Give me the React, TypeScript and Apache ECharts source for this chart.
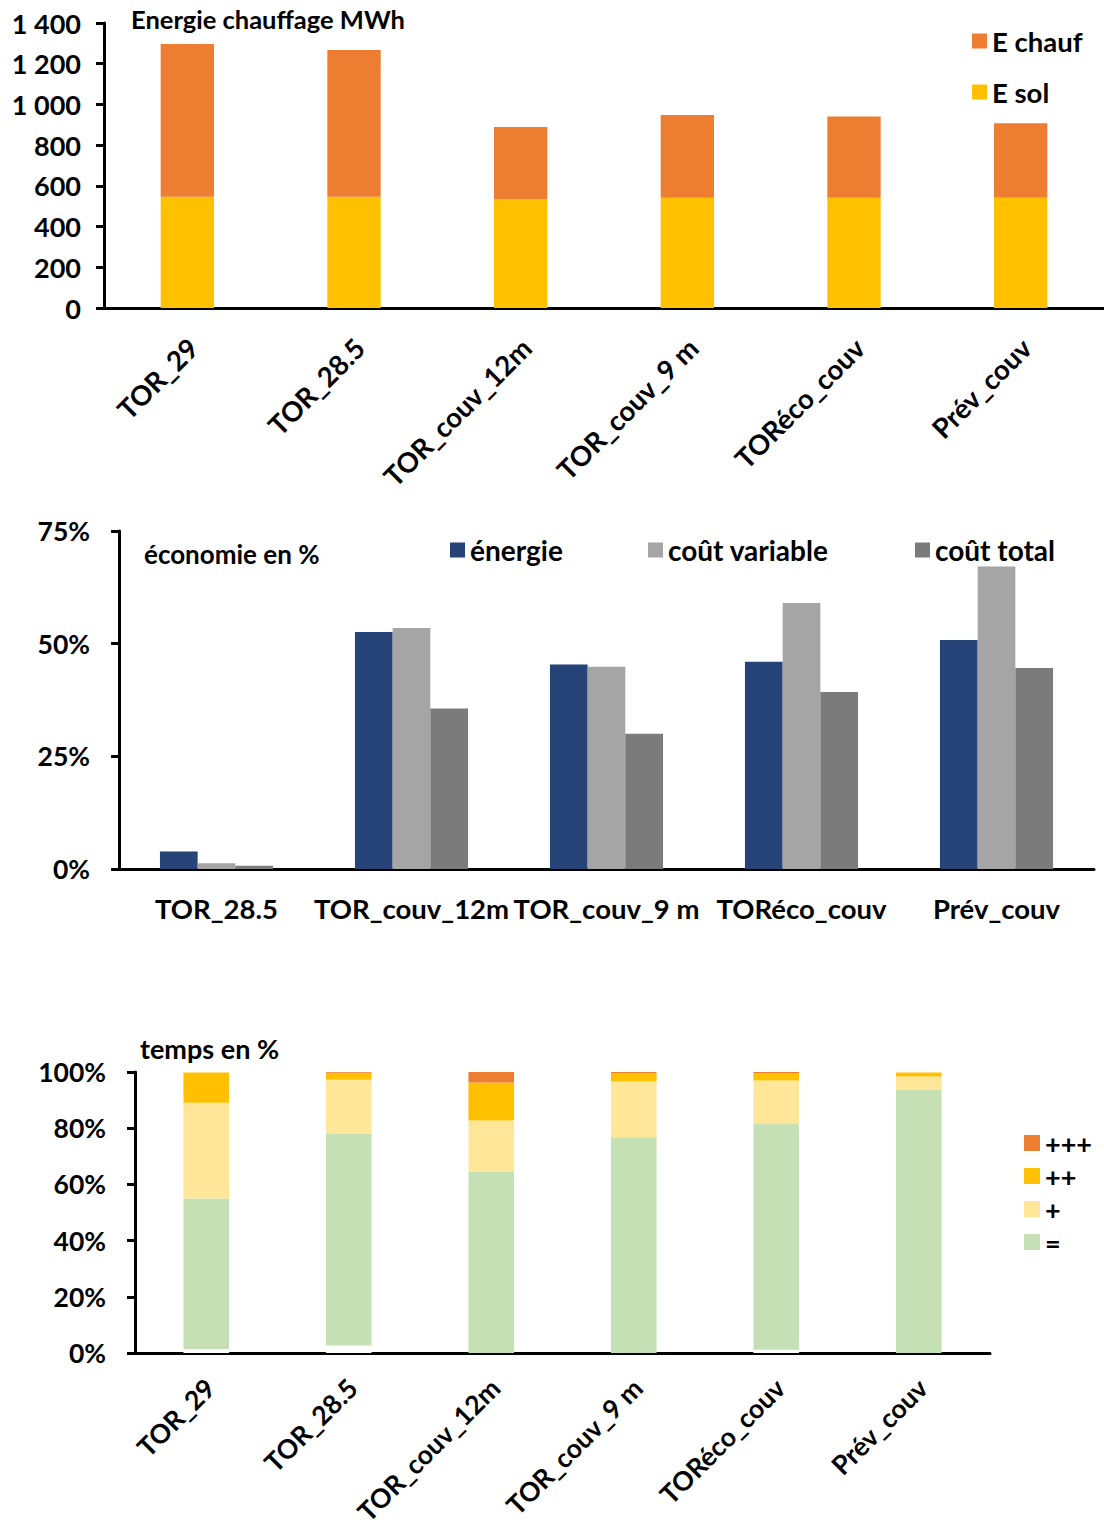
import React, { useEffect, useRef } from "react";
import * as echarts from "echarts";

const categories = ["TOR_29", "TOR_28.5", "TOR_couv_12m", "TOR_couv_9 m", "TORéco_couv", "Prév_couv"];
const eSol = [547, 547, 535, 542, 542, 542];
const eChauf = [750, 720, 354, 406, 399, 365];

const ecoCategories = ["TOR_28.5", "TOR_couv_12m", "TOR_couv_9 m", "TORéco_couv", "Prév_couv"];
const ecoEnergie = [3.9, 52.6, 45.4, 46.0, 50.8];
const ecoCoutVariable = [1.3, 53.5, 44.9, 59.0, 67.1];
const ecoCoutTotal = [0.7, 35.6, 30.0, 39.3, 44.6];

const tempsHidden = [1.4, 2.7, 0, 0, 1.2, 0];
const tempsEgal = [53.6, 75.3, 64.4, 76.8, 80.6, 93.8];
const tempsPlus = [34.1, 19.2, 18.3, 19.9, 15.2, 4.6];
const tempsPlusPlus = [10.7, 2.5, 13.6, 2.9, 2.6, 1.4];
const tempsPlusPlusPlus = [0, 0.3, 3.7, 0.4, 0.4, 0];

const FONT = "Lato";
const txt = (size: number) => ({ fontFamily: FONT, fontWeight: "bold" as const, fontSize: size, color: "#000" });

const axisLine = { show: true, lineStyle: { color: "#000", width: 3 } };
const yTick = { show: true, length: 8, lineStyle: { color: "#000", width: 3 } };

export default function App() {
  const ref = useRef<HTMLDivElement>(null);
  useEffect(() => {
    document.body.style.margin = "0";
    const chart = echarts.init(ref.current!, null, { renderer: "svg" });
    const fmtThousands = (v: number) => {
      if (v >= 1000) {
        const r = String(v % 1000).padStart(3, "0");
        return Math.floor(v / 1000) + " " + r;
      }
      return String(v);
    };
    const legendCommon = { padding: 0, icon: "rect", itemTextGap: 12 };
    chart.setOption({
      animation: false,
      backgroundColor: "#fff",
      textStyle: { fontFamily: FONT },
      title: [
        { text: "Energie chauffage MWh", left: 131, top: 6, padding: 0, textStyle: txt(25.5) },
        { text: "économie en %", left: 144, top: 541, padding: 0, textStyle: txt(26) },
        { text: "temps en %", left: 140, top: 1035, padding: 0, textStyle: txt(27) },
      ],
      legend: [
        {
          ...legendCommon,
          data: ["E chauf", "E sol"],
          orient: "vertical",
          left: 972,
          top: 26,
          itemWidth: 15,
          itemHeight: 15,
          itemGap: 21,
          textStyle: { ...txt(27.5), lineHeight: 30 },
        },
        {
          ...legendCommon,
          data: ["énergie"],
          left: 450,
          top: 534,
          itemWidth: 15,
          itemHeight: 15,
          textStyle: { ...txt(28), lineHeight: 32 },
        },
        {
          ...legendCommon,
          data: ["coût variable"],
          left: 648,
          top: 534,
          itemWidth: 15,
          itemHeight: 15,
          textStyle: { ...txt(28), lineHeight: 32 },
        },
        {
          ...legendCommon,
          data: ["coût total"],
          left: 915,
          top: 534,
          itemWidth: 15,
          itemHeight: 15,
          textStyle: { ...txt(28), lineHeight: 32 },
        },
        {
          ...legendCommon,
          data: ["+++", "++", "+", "="],
          orient: "vertical",
          left: 1024,
          top: 1129,
          itemWidth: 16,
          itemHeight: 16,
          itemGap: 5,
          itemTextGap: 9,
          textStyle: { ...txt(27), lineHeight: 28 },
        },
      ],
      grid: [
        { left: 104, right: 0, top: 23, height: 285, outerBoundsMode: "none", containLabel: false },
        { left: 119, width: 975, top: 531, height: 338, outerBoundsMode: "none", containLabel: false },
        { left: 135, width: 855, top: 1072, height: 281, outerBoundsMode: "none", containLabel: false },
      ],
      xAxis: [
        {
          type: "category",
          gridIndex: 0,
          data: categories,
          axisLine,
          axisTick: { show: false },
          axisLabel: {
            ...txt(27.5),
            rotate: 45,
            margin: 21,
            align: "right",
            verticalAlign: "top",
            padding: [0, 6, 0, 0],
            interval: 0,
          },
        },
        {
          type: "category",
          gridIndex: 1,
          data: ecoCategories,
          axisLine,
          axisTick: { show: false },
          axisLabel: { ...txt(27.5), margin: 25, interval: 0 },
        },
        {
          type: "category",
          gridIndex: 2,
          data: categories,
          axisLine,
          axisTick: { show: false },
          axisLabel: {
            ...txt(26.5),
            rotate: 45,
            margin: 15,
            align: "right",
            verticalAlign: "top",
            padding: [0, 8, 0, 0],
            interval: 0,
          },
        },
      ],
      yAxis: [
        {
          type: "value",
          gridIndex: 0,
          min: 0,
          max: 1400,
          interval: 200,
          axisLine,
          axisTick: yTick,
          splitLine: { show: false },
          axisLabel: { ...txt(27), margin: 23, formatter: fmtThousands },
        },
        {
          type: "value",
          gridIndex: 1,
          min: 0,
          max: 75,
          interval: 25,
          axisLine,
          axisTick: yTick,
          splitLine: { show: false },
          axisLabel: { ...txt(26.5), margin: 29, formatter: (v: number) => v + "%" },
        },
        {
          type: "value",
          gridIndex: 2,
          min: 0,
          max: 100,
          interval: 20,
          axisLine,
          axisTick: yTick,
          splitLine: { show: false },
          axisLabel: { ...txt(26.5), margin: 29, formatter: (v: number) => v + "%" },
        },
      ],
      series: [
        {
          name: "E sol",
          type: "bar",
          xAxisIndex: 0,
          yAxisIndex: 0,
          stack: "e",
          data: eSol,
          barCategoryGap: "68%",
          itemStyle: { color: "#FFC000" },
        },
        {
          name: "E chauf",
          type: "bar",
          xAxisIndex: 0,
          yAxisIndex: 0,
          stack: "e",
          data: eChauf,
          itemStyle: { color: "#ED7D31" },
        },
        {
          name: "énergie",
          type: "bar",
          xAxisIndex: 1,
          yAxisIndex: 1,
          data: ecoEnergie,
          barGap: "0%",
          barCategoryGap: "42%",
          itemStyle: { color: "#264478" },
        },
        {
          name: "coût variable",
          type: "bar",
          xAxisIndex: 1,
          yAxisIndex: 1,
          data: ecoCoutVariable,
          itemStyle: { color: "#A5A5A5" },
        },
        {
          name: "coût total",
          type: "bar",
          xAxisIndex: 1,
          yAxisIndex: 1,
          data: ecoCoutTotal,
          itemStyle: { color: "#7B7B7B" },
        },
        {
          name: "-",
          type: "bar",
          xAxisIndex: 2,
          yAxisIndex: 2,
          stack: "t",
          data: tempsHidden,
          barCategoryGap: "68%",
          itemStyle: { color: "#ffffff" },
        },
        {
          name: "=",
          type: "bar",
          xAxisIndex: 2,
          yAxisIndex: 2,
          stack: "t",
          data: tempsEgal,
          itemStyle: { color: "#C5E0B4" },
        },
        {
          name: "+",
          type: "bar",
          xAxisIndex: 2,
          yAxisIndex: 2,
          stack: "t",
          data: tempsPlus,
          itemStyle: { color: "#FFE699" },
        },
        {
          name: "++",
          type: "bar",
          xAxisIndex: 2,
          yAxisIndex: 2,
          stack: "t",
          data: tempsPlusPlus,
          itemStyle: { color: "#FFC000" },
        },
        {
          name: "+++",
          type: "bar",
          xAxisIndex: 2,
          yAxisIndex: 2,
          stack: "t",
          data: tempsPlusPlusPlus,
          itemStyle: { color: "#ED7D31" },
        },
      ],
    });
    return () => chart.dispose();
  }, []);
  return (
    <div
      ref={ref}
      style={{ position: "absolute", left: 0, top: 0, width: 1104, height: 1528, background: "#fff" }}
    />
  );
}
